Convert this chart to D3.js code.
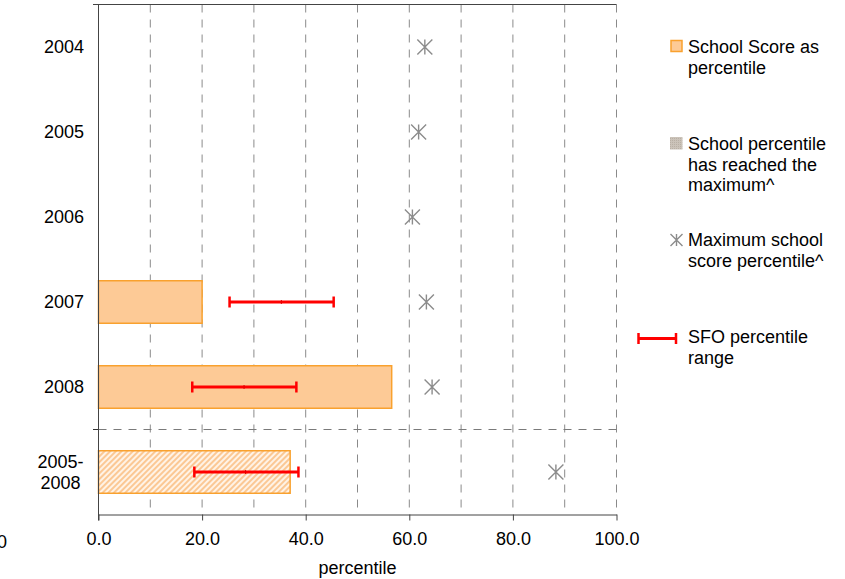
<!DOCTYPE html>
<html>
<head>
<meta charset="utf-8">
<script src="https://cdn.jsdelivr.net/npm/d3@7"></script>
<style>
  html, body { margin: 0; padding: 0; background: #fff; }
  svg { display: block; font-family: Arial, "Liberation Sans", sans-serif; }
</style>
</head>
<body>
<svg id="chart" width="845" height="579"></svg>
<script>
// ---- data ----
const categories = ["2004", "2005", "2006", "2007", "2008", "2005-\n2008"];
const schoolScore = [null, null, null, 20.0, 56.6, 37.0];
const scoreHatched = [false, false, false, false, false, true];
const maxSchoolPct = [63.0, 61.8, 60.6, 63.3, 64.4, 88.3];
const sfoLow = [null, null, null, 25.3, 18.1, 18.5];
const sfoMid = [null, null, null, 35.3, 28.1, 28.4];
const sfoHigh = [null, null, null, 45.4, 38.2, 38.6];
const xTicks = [0, 20, 40, 60, 80, 100];
const xGrid = [10, 20, 30, 40, 50, 60, 70, 80, 90, 100];
const xTitle = "percentile";
const legendItems = [
  { key: "score", lines: ["School Score as", "percentile"] },
  { key: "reached", lines: ["School percentile", "has reached the", "maximum^"] },
  { key: "max", lines: ["Maximum school", "score percentile^"] },
  { key: "sfo", lines: ["SFO percentile", "range"] }
];

// ---- layout ----
const svg = d3.select("#chart");
const FS = 18;
const x = d3.scaleLinear().domain([0, 100]).range([98.5, 616.5]);
const y = d3.scaleBand().domain(categories).range([4.5, 514.5])
  .paddingInner(0.5).paddingOuter(0.25);
const yTop = 4.5, yBottom = 514.5;
const step = y.step();
const cy = c => y(c) + y.bandwidth() / 2;

const ORANGE = "#f9a12e", PEACH = "#fdca96", GRID = "#8a8a8a", STAR = "#8c8c8c", RED = "#ff0000";

// hatch pattern
const defs = svg.append("defs");
const pat = defs.append("pattern").attr("id", "hatch")
  .attr("width", 4).attr("height", 4).attr("patternUnits", "userSpaceOnUse")
  .attr("patternTransform", "rotate(45)");
pat.append("rect").attr("width", 4).attr("height", 4).attr("fill", "#fff3e6");
pat.append("line").attr("x1", 1).attr("y1", 0).attr("x2", 1).attr("y2", 4)
  .attr("stroke", "#fbbd80").attr("stroke-width", 1.6);

const dots = defs.append("pattern").attr("id", "dots")
  .attr("width", 2).attr("height", 2).attr("patternUnits", "userSpaceOnUse");
dots.append("rect").attr("width", 2).attr("height", 2).attr("fill", "#cbc3b9");
dots.append("rect").attr("width", 1).attr("height", 1).attr("fill", "#b9b0a5");

// gridlines
svg.append("g").selectAll("line").data(xGrid).join("line")
  .attr("x1", d => x(d)).attr("x2", d => x(d))
  .attr("y1", yTop).attr("y2", yBottom)
  .attr("stroke", GRID).attr("stroke-width", 1).attr("stroke-dasharray", "8,7");

// separator between yearly and aggregated rows
const sepY = y(categories[5]) - (step - y.bandwidth()) / 2;
svg.append("line").attr("x1", x(0)).attr("x2", x(100)).attr("y1", sepY).attr("y2", sepY)
  .attr("stroke", "#7a7a7a").attr("stroke-dasharray", "8,7");
svg.append("line").attr("x1", x(0) - 5.5).attr("x2", x(0)).attr("y1", sepY).attr("y2", sepY)
  .attr("stroke", "#333");

// top border
svg.append("line").attr("x1", x(0) - 5.5).attr("x2", x(100)).attr("y1", yTop).attr("y2", yTop)
  .attr("stroke", "#444");

// bars
const rows = categories.map((c, i) => ({
  c, score: schoolScore[i], hatched: scoreHatched[i], max: maxSchoolPct[i],
  lo: sfoLow[i], mid: sfoMid[i], hi: sfoHigh[i]
}));
svg.append("g").selectAll("rect").data(rows.filter(r => r.score != null)).join("rect")
  .attr("x", x(0)).attr("y", r => y(r.c))
  .attr("width", r => x(r.score) - x(0)).attr("height", y.bandwidth())
  .attr("fill", r => r.hatched ? "url(#hatch)" : PEACH)
  .attr("stroke", ORANGE).attr("stroke-width", 1.5);

// error bars
const eb = svg.append("g").selectAll("g").data(rows.filter(r => r.lo != null)).join("g");
eb.append("line").attr("x1", r => x(r.lo)).attr("x2", r => x(r.hi))
  .attr("y1", r => cy(r.c)).attr("y2", r => cy(r.c)).attr("stroke", RED).attr("stroke-width", 3);
eb.append("line").attr("x1", r => x(r.lo)).attr("x2", r => x(r.lo))
  .attr("y1", r => cy(r.c) - 5.5).attr("y2", r => cy(r.c) + 5.5).attr("stroke", RED).attr("stroke-width", 2.5);
eb.append("line").attr("x1", r => x(r.hi)).attr("x2", r => x(r.hi))
  .attr("y1", r => cy(r.c) - 5.5).attr("y2", r => cy(r.c) + 5.5).attr("stroke", RED).attr("stroke-width", 2.5);
eb.append("line").attr("x1", r => x(r.mid)).attr("x2", r => x(r.mid))
  .attr("y1", r => cy(r.c) - 2).attr("y2", r => cy(r.c) + 2).attr("stroke", "#e00000").attr("stroke-width", 1);

// asterisk markers
function star(g, px, py, s) {
  g.append("path")
    .attr("d", `M${px},${py - s}L${px},${py + s}M${px - s},${py - s}L${px + s},${py + s}M${px - s},${py + s}L${px + s},${py - s}`)
    .attr("stroke", STAR).attr("stroke-width", 1.4).attr("fill", "none");
}
const starG = svg.append("g");
rows.forEach(r => star(starG, x(r.max), cy(r.c), 7.5));

// axes
const xAxis = svg.append("g").attr("transform", `translate(0,${yBottom})`)
  .call(d3.axisBottom(x).tickValues(xTicks).tickFormat(d3.format(".1f")).tickSize(6).tickSizeOuter(0).tickPadding(12));
xAxis.select(".domain").attr("stroke", "#444");
xAxis.selectAll(".tick line").attr("stroke", "#444");
xAxis.selectAll("text").attr("font-size", FS).attr("fill", "#000")
  .attr("font-family", "Arial, 'Liberation Sans', sans-serif");

svg.append("line").attr("x1", x(0)).attr("x2", x(0)).attr("y1", yTop).attr("y2", yBottom + 6)
  .attr("stroke", "#444");

// stray clipped label at far left
svg.append("text").attr("x", 7).attr("y", 542).attr("dy", "0.35em").attr("text-anchor", "end")
  .attr("font-size", FS).text("0");

svg.append("text").attr("x", (x(0) + x(100)) / 2).attr("y", 568).attr("dy", "0.35em")
  .attr("text-anchor", "middle").attr("font-size", FS).text(xTitle);

// y labels
const yl = svg.append("g");
categories.forEach(c => {
  const lines = c.split("\n");
  const t = yl.append("text").attr("font-size", FS).attr("text-anchor", lines.length > 1 ? "middle" : "end");
  lines.forEach((ln, i) => {
    t.append("tspan").attr("y", cy(c) + (i - (lines.length - 1) / 2) * 21).attr("dy", "0.35em").text(ln);
  });
  if (lines.length > 1) {
    const w = d3.max(t.selectAll("tspan").nodes(), n => n.getComputedTextLength());
    t.selectAll("tspan").attr("x", 83.5 - w / 2);
  } else {
    t.selectAll("tspan").attr("x", 84);
  }
});

// legend
const legTop = [47, 144, 240, 337];
const lg = svg.append("g");
legendItems.forEach((it, i) => {
  const ty = legTop[i];
  const t = lg.append("text").attr("font-size", FS);
  it.lines.forEach((ln, j) => t.append("tspan").attr("x", 688).attr("y", ty + j * 20.5).attr("dy", "0.35em").text(ln));
  if (it.key === "score") {
    lg.append("rect").attr("x", 671).attr("y", ty - 6.5).attr("width", 11).attr("height", 11)
      .attr("fill", PEACH).attr("stroke", ORANGE).attr("stroke-width", 1.5);
  } else if (it.key === "reached") {
    lg.append("rect").attr("x", 670).attr("y", ty - 7).attr("width", 12.5).attr("height", 12.5)
      .attr("fill", "url(#dots)");
  } else if (it.key === "max") {
    star(lg, 676.5, ty, 6);
  } else {
    const ey = ty + 1.5;
    lg.append("line").attr("x1", 638).attr("x2", 676.5).attr("y1", ey).attr("y2", ey).attr("stroke", RED).attr("stroke-width", 3);
    lg.append("line").attr("x1", 638.5).attr("x2", 638.5).attr("y1", ey - 5.5).attr("y2", ey + 5.5).attr("stroke", RED).attr("stroke-width", 2.5);
    lg.append("line").attr("x1", 676).attr("x2", 676).attr("y1", ey - 5.5).attr("y2", ey + 5.5).attr("stroke", RED).attr("stroke-width", 2.5);
  }
});
</script>
</body>
</html>
